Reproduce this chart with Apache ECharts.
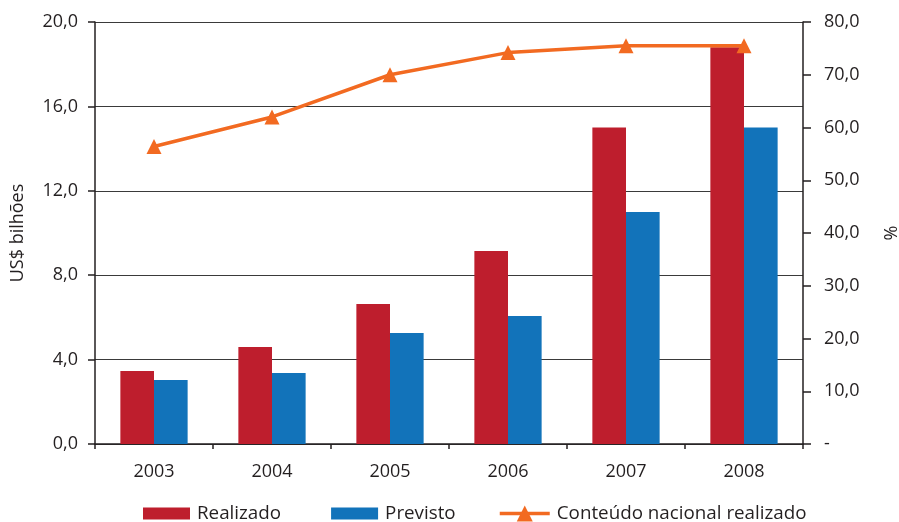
<!DOCTYPE html>
<html>
<head>
<meta charset="utf-8">
<script src="https://cdn.jsdelivr.net/npm/echarts@6/dist/echarts.min.js"></script>
<style>
  html, body { margin: 0; padding: 0; background: #fff; }
  #chart { width: 899px; height: 522px; }
</style>
</head>
<body>
<div id="chart"></div>
<script>
// Anos
const years = ['2003', '2004', '2005', '2006', '2007', '2008'];
// Investimentos em US$ bilhões
const realizado = [3.46, 4.6, 6.63, 9.15, 15.0, 18.8];
const previsto = [3.03, 3.36, 5.26, 6.07, 11.0, 15.0];
// Conteúdo nacional realizado (%)
const conteudoNacional = [56.4, 62.0, 70.0, 74.2, 75.5, 75.5];

const FONT = '"Open Sans", sans-serif';
const TEXT = '#231F20';
const FS = 18;
const LEGEND_FS = 18.8;
const fmt = v => v.toFixed(1).replace('.', ',');

const legendText = { fontFamily: FONT, fontSize: LEGEND_FS, color: TEXT, padding: [0, 0, 0, 2] };

const chart = echarts.init(document.getElementById('chart'), null, { renderer: 'canvas' });
chart.setOption({
  animation: false,
  textStyle: { fontFamily: FONT, color: TEXT },
  grid: { left: 95, right: 96, top: 22, bottom: 78, containLabel: false, outerBoundsMode: 'none' },
  legend: [
    {
      left: 143,
      top: 504,
      padding: 0,
      icon: 'rect',
      itemWidth: 47,
      itemHeight: 12,
      itemGap: 50,
      textStyle: legendText,
      data: ['Realizado', 'Previsto']
    },
    {
      left: 498,
      top: 504,
      padding: 0,
      itemWidth: 50,
      itemHeight: 20,
      lineStyle: { width: 3.5 },
      textStyle: legendText,
      data: ['Conteúdo nacional realizado']
    }
  ],
  xAxis: {
    type: 'category',
    data: years,
    axisLine: { lineStyle: { color: '#231F20', width: 1.5 } },
    axisTick: { show: true, length: 5, alignWithLabel: false, lineStyle: { color: '#231F20', width: 1.5 } },
    axisLabel: { margin: 19, fontSize: FS, color: TEXT, fontFamily: FONT }
  },
  yAxis: [
    {
      type: 'value',
      min: 0, max: 20, interval: 4,
      name: 'US$ bilhões',
      nameLocation: 'middle',
      nameRotate: 90,
      nameGap: 68,
      nameTextStyle: { fontSize: FS, color: TEXT, fontFamily: FONT },
      axisLine: { show: true, lineStyle: { color: '#231F20', width: 1.5 } },
      axisTick: { show: true, length: 7, lineStyle: { color: '#231F20', width: 1.5 } },
      axisLabel: { margin: 17, fontSize: FS, color: TEXT, fontFamily: FONT, formatter: fmt },
      splitLine: { show: true, lineStyle: { color: '#3a3a3a', width: 1.2 } }
    },
    {
      type: 'value',
      min: 0, max: 80, interval: 10,
      name: '%',
      nameLocation: 'middle',
      nameRotate: 90,
      nameGap: 80,
      nameTextStyle: { fontSize: FS, color: TEXT, fontFamily: FONT },
      axisLine: { show: true, lineStyle: { color: '#231F20', width: 1.5 } },
      axisTick: { show: true, length: 8, lineStyle: { color: '#231F20', width: 1.5 } },
      axisLabel: { margin: 21, fontSize: FS, color: TEXT, fontFamily: FONT,
        formatter: v => v === 0 ? '-' : fmt(v) },
      splitLine: { show: false }
    }
  ],
  series: [
    {
      name: 'Realizado',
      type: 'bar',
      data: realizado,
      barWidth: '28.5%',
      barGap: '0%',
      itemStyle: { color: '#BE1E2D' }
    },
    {
      name: 'Previsto',
      type: 'bar',
      data: previsto,
      barWidth: '28.5%',
      barGap: '0%',
      itemStyle: { color: '#1273BA' }
    },
    {
      name: 'Conteúdo nacional realizado',
      type: 'line',
      yAxisIndex: 1,
      data: conteudoNacional,
      symbol: 'triangle',
      symbolSize: 15,
      z: 5,
      lineStyle: { color: '#F26A21', width: 3.5 },
      itemStyle: { color: '#F26A21' }
    }
  ]
});
</script>
</body>
</html>
